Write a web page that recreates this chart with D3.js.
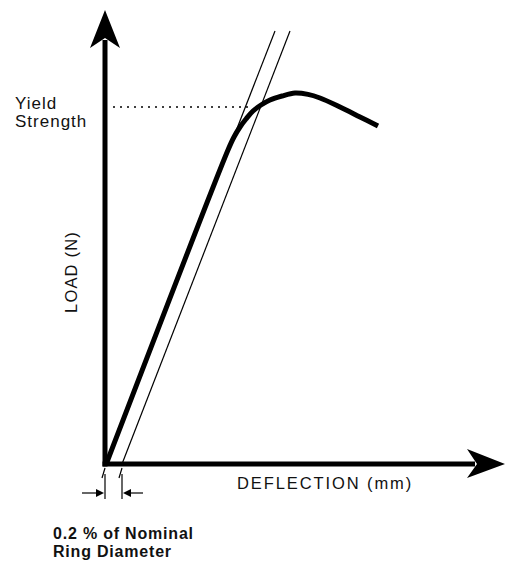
<!DOCTYPE html>
<html><head><meta charset="utf-8">
<script src="https://cdn.jsdelivr.net/npm/d3@7"></script>
<style>html,body{margin:0;padding:0;background:#fff;}svg{display:block;}</style>
</head><body>
<svg id="chart" width="507" height="561"></svg>
<script>
// ---- data (deflection in arbitrary mm units, load in arbitrary N units) ----
const curveDeflection = [0.5, 30.75, 32.25, 33.75, 35.25, 37, 39, 41.25, 44.25, 47.5, 50.75, 53.75, 58.75, 63.75, 68.25];
const curveLoad       = [0.5, 78.5, 81.75, 84.25, 86.25, 88.25, 89.75, 91, 92, 92.75, 92.4, 91.5, 89.25, 86.75, 84.5];
const elasticDeflection = [0.5, 42.5];
const elasticLoad       = [0.5, 108.25];
const offsetDeflection  = [4.25, 46.25];
const offsetLoad        = [0, 108.25];
const yieldLoad = 89.25;
const yieldLineDeflection = [2, 36.25];
const axisMax = {deflection: 100, load: 113.5};
const xLabel = "DEFLECTION (mm)";
const yLabel = "LOAD (N)";
const yieldLabel = ["Yield", "Strength"];
const offsetLabel = ["0.2 % of Nominal", "Ring Diameter"];

const svg = d3.select("#chart");
const x = d3.scaleLinear().domain([0, 100]).range([105, 505]);
const y = d3.scaleLinear().domain([0, 100]).range([464, 64]);

// axes
const x0 = x(0), y0 = y(0);
const xt = x(axisMax.deflection), yt = y(axisMax.load);
svg.append("line").attr("x1", x0 - 2.5).attr("y1", y0).attr("x2", xt - 30).attr("y2", y0)
  .attr("stroke", "#000").attr("stroke-width", 5);
svg.append("line").attr("x1", x0).attr("y1", y0 + 2.5).attr("x2", x0).attr("y2", yt + 30)
  .attr("stroke", "#000").attr("stroke-width", 5);
// arrowheads
svg.append("path").attr("d", `M${xt},${y0} L${xt-38},${y0-15} L${xt-28},${y0} L${xt-38},${y0+14} Z`).attr("fill", "#000");
svg.append("path").attr("d", `M${x0},${yt} L${x0-15},${yt+38} L${x0},${yt+28} L${x0+15},${yt+38} Z`).attr("fill", "#000");

// thin elastic & offset lines
const line = d3.line().x(d => x(d[0])).y(d => y(d[1]));
svg.append("path").attr("d", line(d3.zip(elasticDeflection, elasticLoad)))
  .attr("stroke", "#000").attr("stroke-width", 1.2).attr("fill", "none");
svg.append("path").attr("d", line(d3.zip(offsetDeflection, offsetLoad)))
  .attr("stroke", "#000").attr("stroke-width", 1.2).attr("fill", "none");

// main curve
const curve = d3.line().x(d => x(d[0])).y(d => y(d[1])).curve(d3.curveCatmullRom.alpha(0.5));
svg.append("path").attr("d", curve(d3.zip(curveDeflection, curveLoad)))
  .attr("stroke", "#000").attr("stroke-width", 5).attr("fill", "none")
  .attr("stroke-linejoin", "round").attr("stroke-linecap", "butt");

// dotted yield line
svg.append("line").attr("x1", x(yieldLineDeflection[0])).attr("x2", x(yieldLineDeflection[1]))
  .attr("y1", y(yieldLoad)).attr("y2", y(yieldLoad))
  .attr("stroke", "#000").attr("stroke-width", 1.5).attr("stroke-dasharray", "2,5");

// dimension marks below axis
[0, offsetDeflection[0]].forEach(d => {
  const px = x(d);
  svg.append("line").attr("x1", px - 3).attr("y1", y0 + 14).attr("x2", px).attr("y2", y0 + 4)
    .attr("stroke", "#000").attr("stroke-width", 1.2);
  svg.append("line").attr("x1", px).attr("y1", y0 + 10).attr("x2", px).attr("y2", y0 + 35)
    .attr("stroke", "#000").attr("stroke-width", 1.2);
});
const ay = y0 + 29;
const lx = x(0), rx = x(offsetDeflection[0]);
svg.append("line").attr("x1", lx - 23).attr("x2", lx - 6).attr("y1", ay).attr("y2", ay).attr("stroke", "#000").attr("stroke-width", 1.2);
svg.append("path").attr("d", `M${lx-1},${ay} L${lx-9},${ay-4} L${lx-9},${ay+4} Z`).attr("fill", "#000");
svg.append("line").attr("x1", rx + 6).attr("x2", rx + 21).attr("y1", ay).attr("y2", ay).attr("stroke", "#000").attr("stroke-width", 1.2);
svg.append("path").attr("d", `M${rx+1},${ay} L${rx+9},${ay-4} L${rx+9},${ay+4} Z`).attr("fill", "#000");

// labels
const font = "'Liberation Sans', Arial, Helvetica, sans-serif";
svg.append("text").attr("x", 237).attr("y", 489).text(xLabel)
  .attr("font-family", font).attr("font-size", 16.5).attr("letter-spacing", 1.9).attr("fill", "#111");
svg.append("text").attr("transform", "translate(77,313) rotate(-90)").text(yLabel)
  .attr("font-family", font).attr("font-size", 16.5).attr("letter-spacing", 1.2).attr("fill", "#111");
yieldLabel.forEach((t, i) => {
  svg.append("text").attr("x", 15).attr("y", 109 + i * 18).text(t)
    .attr("font-family", font).attr("font-size", 17).attr("letter-spacing", 1).attr("fill", "#111");
});
offsetLabel.forEach((t, i) => {
  svg.append("text").attr("x", 53).attr("y", 539 + i * 18).text(t)
    .attr("font-family", font).attr("font-size", 16).attr("font-weight", "bold").attr("letter-spacing", 0.8).attr("fill", "#111");
});
</script>
</body></html>
